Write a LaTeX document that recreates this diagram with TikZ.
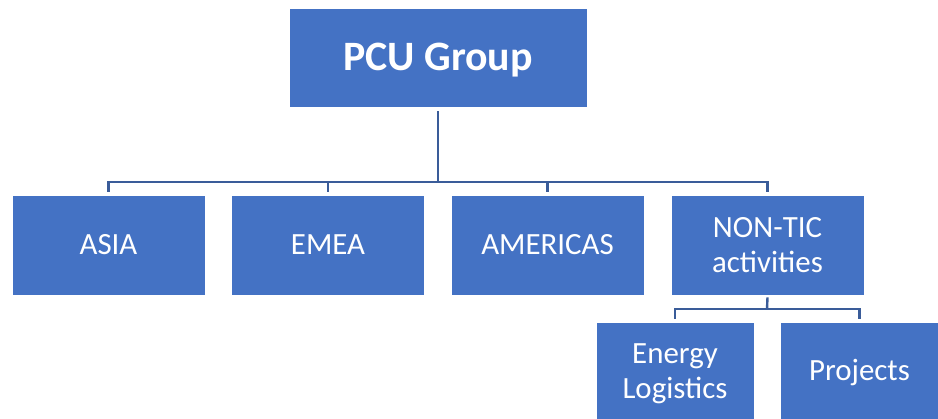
\documentclass[tikz,border=0pt]{standalone}
\usepackage{fontspec}
\setmainfont{Carlito}
\definecolor{boxblue}{HTML}{4472C4}
\definecolor{lineblue}{HTML}{3A5C99}
\begin{document}
\begin{tikzpicture}[x=1bp,y=-1bp,
  box/.style={fill=boxblue,draw=white,line width=0.6bp,text=white,inner sep=0pt,align=center,font=\fontsize{31}{35}\selectfont,text height=19.6bp,text depth=0bp},
  twoline/.style={text height=54.6bp,text depth=0bp},
  conn/.style={draw=lineblue,line width=2.4bp}]
\useasboundingbox (0,0) rectangle (938,418);
\node[box,minimum width=298bp,minimum height=99bp,font=\fontsize{42}{46}\selectfont\bfseries,text height=26.5bp] (top) at (438,57.5) {PCU Group};
\node[box,minimum width=193bp,minimum height=100bp] (asia) at (108.5,245) {ASIA};
\node[box,minimum width=193bp,minimum height=100bp] (emea) at (328,245) {EMEA};
\node[box,minimum width=193bp,minimum height=100bp] (amer) at (547.5,245) {AMERICAS};
\node[box,twoline,minimum width=193bp,minimum height=100bp] (nontic) at (767.5,245) {NON-TIC\\activities};
\node[box,twoline,minimum width=158bp,minimum height=98bp] (energy) at (675,371) {Energy\\Logistics};
\node[box,minimum width=158bp,minimum height=98bp] (proj) at (859.5,371) {Projects};
\coordinate (h1) at (438,182);
\coordinate (h2) at (767,309);
\draw[conn] ([yshift=-4bp]top.south) -- (h1);
\draw[conn] ([yshift=3bp]asia.north) |- (h1);
\draw[conn] ([yshift=3bp]emea.north) |- (h1);
\draw[conn] ([yshift=3bp]amer.north) |- (h1);
\draw[conn] ([yshift=3bp]nontic.north) |- (h1);
\draw[conn] ([yshift=-2bp]nontic.south) -- (h2);
\draw[conn] ([yshift=3bp]energy.north) |- (h2);
\draw[conn] ([yshift=3bp]proj.north) |- (h2);
\end{tikzpicture}
\end{document}
